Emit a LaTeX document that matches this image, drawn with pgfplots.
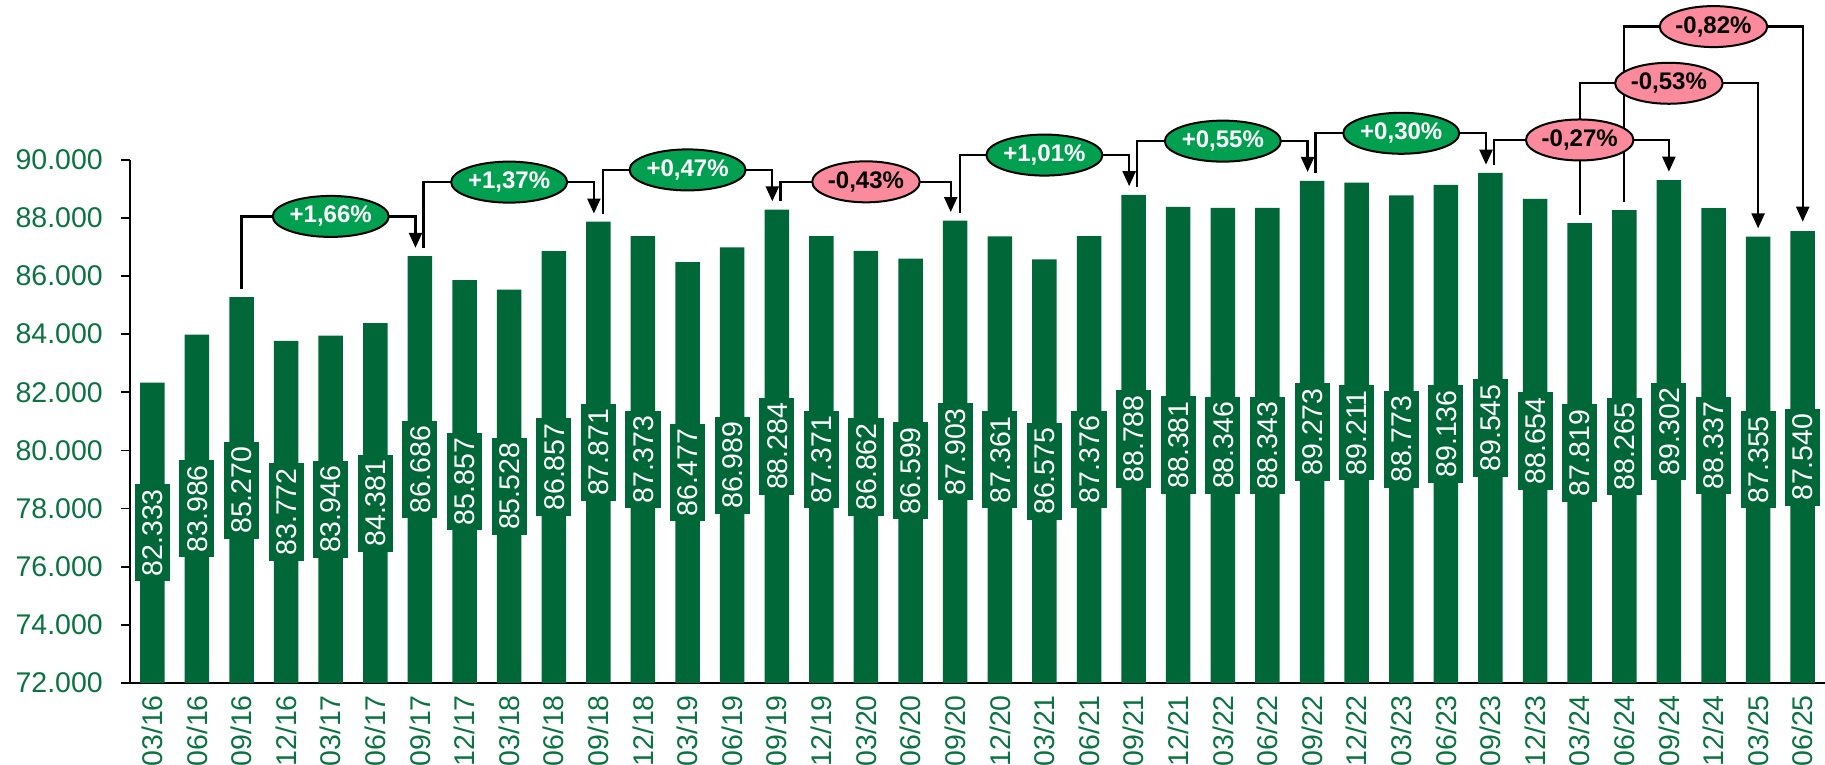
\documentclass[border=0pt]{standalone}
\usepackage{fontspec}
\setmainfont{Liberation Sans}
\usepackage{pgfplots}
\pgfplotsset{compat=1.18}
\usepackage{pgfplotstable}
\usetikzlibrary{arrows.meta,shapes.geometric}
\definecolor{barc}{HTML}{006838}
\definecolor{tickgreen}{HTML}{0B7342}
\definecolor{ovgreen}{HTML}{00A050}
\definecolor{ovpink}{HTML}{FA8A9C}

\pgfplotstableread{
x v
0 82333
1 83986
2 85270
3 83772
4 83946
5 84381
6 86686
7 85857
8 85528
9 86857
10 87871
11 87373
12 86477
13 86989
14 88284
15 87371
16 86862
17 86599
18 87903
19 87361
20 86575
21 87376
22 88788
23 88381
24 88346
25 88343
26 89273
27 89211
28 88773
29 89136
30 89545
31 88654
32 87819
33 88265
34 89302
35 88337
36 87355
37 87540
}\data

\tikzset{
  conn/.style={line width=2.3pt, black},
  arr/.style={conn, -{Triangle[width=13pt,length=15pt]}},
  ov/.style={ellipse, draw=black, line width=2pt, inner sep=0pt, minimum height=41pt,
     font=\bfseries\fontsize{24}{28}\selectfont},
  ovg/.style={ov, fill=ovgreen, text=white},
  ovp/.style={ov, fill=ovpink, text=black},
}

\begin{document}
\begin{tikzpicture}
\begin{axis}[
  scale only axis, width=1695pt, height=683pt,
  xmin=-0.5, xmax=37.5, ymin=72000, ymax=95495,
  axis x line*=bottom, axis y line*=left,
  axis line style={line width=1.6pt, black},
  y axis line style={draw=none},
  ytick={72000,74000,...,90000},
  scaled y ticks=false,
  xtick={0,...,37},
  xticklabels={03/16,06/16,09/16,12/16,03/17,06/17,09/17,12/17,03/18,06/18,09/18,12/18,03/19,06/19,09/19,12/19,03/20,06/20,09/20,12/20,03/21,06/21,09/21,12/21,03/22,06/22,09/22,12/22,03/23,06/23,09/23,12/23,03/24,06/24,09/24,12/24,03/25,06/25},
  tick align=outside, major tick length=9pt,
  ytick style={line width=1.6pt, black},
  xtick style={draw=none},
  tick label style={font=\fontsize{28.5}{34}\selectfont, text=tickgreen},
  yticklabel style={anchor=east, inner ysep=0pt, inner xsep=18pt},
  xticklabel style={rotate=90, anchor=east, inner ysep=0pt, inner xsep=3pt},
  /pgf/number format/fixed,
  /pgf/number format/precision=0,
  /pgf/number format/1000 sep={.},
  /pgf/number format/assume math mode=true,
]
\addplot[ybar, bar width=24.5pt, bar shift=0pt, fill=barc, draw=none] table[x=x,y=v]{\data};
\addplot[draw=none, mark=none, point meta=explicit, nodes near coords,
  every node near coord/.append style={rotate=90, anchor=center, fill=barc, text=white,
    inner xsep=5pt, inner ysep=7.3pt, text height=20.5pt, text depth=0pt,
    font=\fontsize{28.5}{34}\selectfont}]
  table[x=x, y expr={(\thisrow{v}+72000)/2}, meta=v]{\data};

\coordinate (SW) at (rel axis cs:0,0);
\coordinate (NE) at (rel axis cs:1,1);
\coordinate (Y0) at (-0.5,72000);
\coordinate (Y1) at (-0.5,90000);

% connectors
\draw[arr] (2,85550) |- (5.9,88050) -- (5.9,86970);
\draw[arr] (6.08,86950) |- (9.9,89230) -- (9.9,88150);
\draw[arr] (10.1,88150) |- (13.9,89650) -- (13.9,88570);
\draw[arr] (14.08,88570) |- (17.9,89240) -- (17.9,88200);
\draw[arr] (18.1,88180) |- (21.9,90160) -- (21.9,89090);
\draw[arr] (22.08,89070) |- (25.9,90640) -- (25.9,89580);
\draw[arr] (26.08,89560) |- (29.9,90910) -- (29.9,89830);
\draw[arr] (30.08,89820) |- (34,90680) -- (34,89590);
\draw[arr] (32,88100) |- (36,92630) -- (36,87640);
\draw[arr] (33,88560) |- (37,94580) -- (37,87870);

% labels
\node[ovg] at (4,88050) {+1,66\%};
\node[ovg] at (8,89230) {+1,37\%};
\node[ovg] at (12,89650) {+0,47\%};
\node[ovp] at (16,89240) {-0,43\%};
\node[ovg] at (20,90160) {+1,01\%};
\node[ovg] at (24,90640) {+0,55\%};
\node[ovg] at (28,90910) {+0,30\%};
\node[ovp] at (32,90680) {-0,27\%};
\node[ovp] at (34,92630) {-0,53\%};
\node[ovp] at (35,94580) {-0,82\%};
\end{axis}
\draw[line width=1.6pt, black] ([yshift=-0.8pt]Y0) -- (Y1);
\pgfresetboundingbox
\path ([xshift=-130pt,yshift=-81pt]SW) rectangle (NE);
\end{tikzpicture}
\end{document}
